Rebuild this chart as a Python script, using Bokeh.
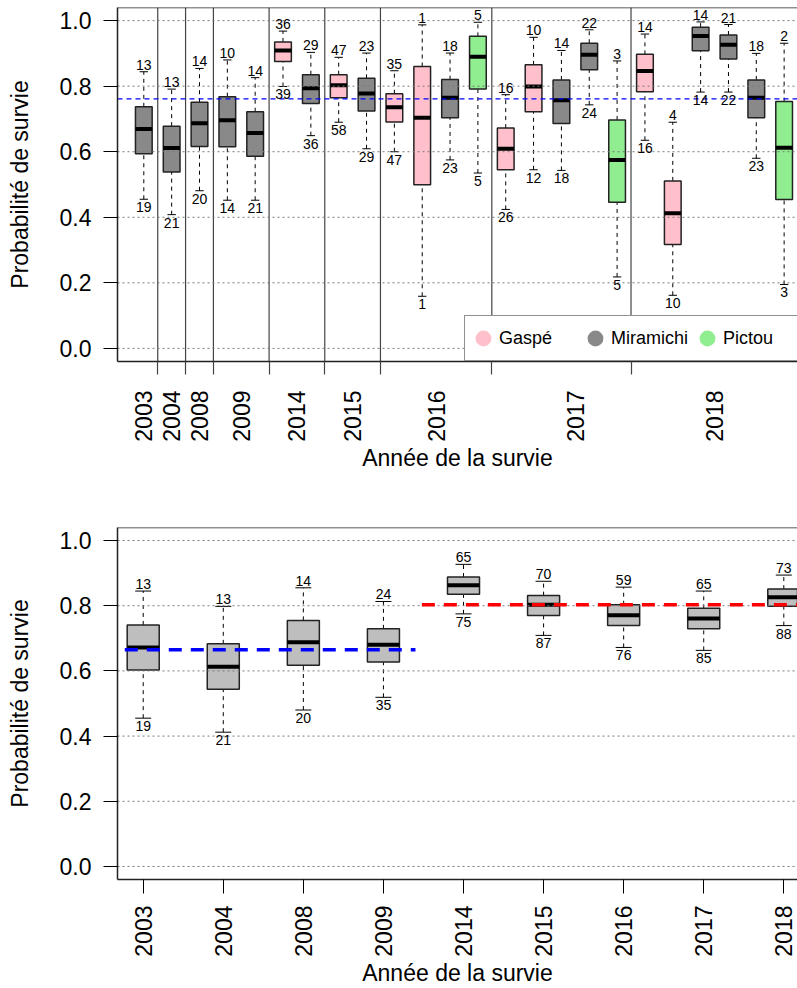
import numpy as np
from bokeh.plotting import figure
from bokeh.models import (Range1d, FixedTicker, Legend, LegendItem, Span,
                          ColumnDataSource, PrintfTickFormatter)
from bokeh.layouts import column
from bokeh.core.properties import value
from bokeh.embed import file_html
from bokeh.resources import INLINE

FONT = "Liberation Sans"

# ---------------- upper panel: survival per year and river ----------------
year_labels = ["2003", "2004", "2008", "2009", "2014", "2015", "2016", "2017", "2018"]
boxes_per_year = [1, 1, 1, 2, 2, 2, 4, 5, 6]
year_label_pos = [1, 2, 3, 4.5, 6.5, 8.5, 11.5, 16.5, 21.5]

site = ["Miramichi", "Miramichi", "Miramichi", "Miramichi", "Miramichi",
        "Gaspé", "Miramichi",
        "Gaspé", "Miramichi",
        "Gaspé", "Gaspé", "Miramichi", "Pictou",
        "Gaspé", "Gaspé", "Miramichi", "Miramichi", "Pictou",
        "Gaspé", "Gaspé", "Miramichi", "Miramichi", "Miramichi", "Pictou"]
low = [0.455, 0.408, 0.481, 0.452, 0.452, 0.799, 0.649, 0.690, 0.609, 0.600, 0.159, 0.575,
       0.535, 0.424, 0.545, 0.543, 0.743, 0.218, 0.635, 0.162, 0.782, 0.782, 0.580, 0.195]
q1 = [0.594, 0.538, 0.616, 0.615, 0.586, 0.875, 0.747, 0.765, 0.724, 0.691, 0.499, 0.704,
      0.791, 0.545, 0.722, 0.686, 0.850, 0.446, 0.783, 0.317, 0.908, 0.883, 0.704, 0.454]
med = [0.669, 0.611, 0.687, 0.696, 0.657, 0.909, 0.794, 0.803, 0.778, 0.736, 0.704, 0.765,
       0.890, 0.609, 0.799, 0.757, 0.896, 0.575, 0.846, 0.412, 0.953, 0.926, 0.765, 0.612]
q3 = [0.737, 0.678, 0.751, 0.768, 0.722, 0.935, 0.835, 0.835, 0.824, 0.777, 0.860, 0.820,
      0.952, 0.672, 0.865, 0.819, 0.931, 0.697, 0.897, 0.511, 0.980, 0.956, 0.819, 0.753]
high = [0.844, 0.791, 0.854, 0.880, 0.826, 0.968, 0.903, 0.888, 0.901, 0.847, 0.987, 0.901,
        0.995, 0.774, 0.949, 0.909, 0.972, 0.877, 0.959, 0.690, 0.996, 0.988, 0.900, 0.931]
n_high = [13, 13, 14, 10, 14, 36, 29, 47, 23, 35, 1, 18, 5, 16, 10, 14, 22, 3, 14, 4, 14, 21, 18, 2]
n_low = [19, 21, 20, 14, 21, 39, 36, 58, 29, 47, 1, 23, 5, 26, 12, 18, 24, 5, 16, 10, 14, 22, 23, 3]
overall_mean = 0.761

site_names = ["Gaspé", "Miramichi", "Pictou"]
site_colors = {"Gaspé": "#FFC0CB", "Miramichi": "#898989", "Pictou": "#90EE90"}

# ---------------- lower panel: survival per year, rivers pooled ----------------
pooled_low = [0.455, 0.412, 0.480, 0.519, 0.775, 0.709, 0.672, 0.663, 0.739]
pooled_q1 = [0.603, 0.544, 0.617, 0.627, 0.835, 0.770, 0.739, 0.729, 0.798]
pooled_med = [0.672, 0.613, 0.688, 0.680, 0.863, 0.803, 0.771, 0.761, 0.826]
pooled_q3 = [0.741, 0.683, 0.755, 0.729, 0.888, 0.831, 0.803, 0.792, 0.851]
pooled_high = [0.845, 0.798, 0.855, 0.813, 0.927, 0.875, 0.857, 0.845, 0.894]
pooled_n_high = [13, 13, 14, 24, 65, 70, 59, 65, 73]
pooled_n_low = [19, 21, 20, 35, 75, 87, 76, 85, 88]
mean_early = 0.665   # 2003-2009
mean_late = 0.803    # 2014-2018

y_ticks = [0.0, 0.2, 0.4, 0.6, 0.8, 1.0]
FRAME = "#222222"


def style_axes(p):
    p.outline_line_color = None
    p.grid.visible = False
    for ax in p.below + p.left:
        ax.axis_line_color = FRAME
        ax.axis_line_width = 1.5
        ax.major_label_text_font = FONT
        ax.major_label_text_font_size = "23px"
        ax.major_label_text_color = "black"
        ax.axis_label_text_font = FONT
        ax.axis_label_text_font_size = "23px"
        ax.axis_label_text_font_style = "normal"
        ax.axis_label_text_color = "black"
    ya = p.left[0]
    ya.ticker = FixedTicker(ticks=y_ticks)
    ya.formatter = PrintfTickFormatter(format="%.1f")
    ya.major_tick_out = 14
    ya.major_tick_in = 0
    ya.major_tick_line_color = "black"
    ya.minor_tick_line_color = None
    ya.major_label_standoff = 12
    ya.axis_label_standoff = 24
    # top edge of the frame
    p.add_layout(Span(location=p.y_range.end, dimension="width",
                      line_color=FRAME, line_width=1.5))


def draw_grid(p):
    x0, x1 = p.x_range.start, p.x_range.end
    p.segment(x0=[x0] * len(y_ticks), x1=[x1] * len(y_ticks), y0=y_ticks, y1=y_ticks,
              line_color="#7a7a7a", line_width=1, line_dash="2 3")


def draw_boxes(p, xs, lo, a, m, b, hi, nh, nl, fills, width):
    xs = np.asarray(xs, dtype=float)
    src = ColumnDataSource(dict(
        x=xs, lo=lo, q1=a, med=m, q3=b, hi=hi, fill=fills,
        left=xs - width / 2, right=xs + width / 2,
        cl=xs - width / 4, cr=xs + width / 4,
        nh=[str(v) for v in nh], nl=[str(v) for v in nl]))
    p.segment(x0="x", x1="x", y0="q3", y1="hi", source=src,
              line_color="black", line_width=1, line_dash="4 4")
    p.segment(x0="x", x1="x", y0="lo", y1="q1", source=src,
              line_color="black", line_width=1, line_dash="4 4")
    p.segment(x0="cl", x1="cr", y0="hi", y1="hi", source=src, line_color="black", line_width=1)
    p.segment(x0="cl", x1="cr", y0="lo", y1="lo", source=src, line_color="black", line_width=1)
    p.vbar(x="x", width=width, bottom="q1", top="q3", source=src,
           fill_color="fill", line_color=FRAME, line_width=1.5)
    p.segment(x0="left", x1="right", y0="med", y1="med", source=src,
              line_color="black", line_width=4)
    return src


def draw_counts(p, src):
    p.text(x="x", y="hi", text="nh", source=src, text_align="center",
           text_baseline="bottom", y_offset=-2, text_font=value(FONT),
           text_font_size="14px", text_color="black")
    p.text(x="x", y="lo", text="nl", source=src, text_align="center",
           text_baseline="top", y_offset=3, text_font=value(FONT),
           text_font_size="14px", text_color="black")


# ================= upper figure =================
n_box = len(low)
pos = np.arange(1, n_box + 1)
boundaries = list(np.cumsum(boxes_per_year)[:-1] + 0.5)

p1 = figure(width=797, height=494, x_range=Range1d(0.055, 24.48), y_range=Range1d(-0.04, 1.04),
            output_backend="svg", toolbar_location=None,
            min_border_left=117, min_border_right=0, min_border_top=7, min_border_bottom=133,
            x_axis_label="Année de la survie", y_axis_label="Probabilité de survie")
style_axes(p1)
xa = p1.below[0]
xa.ticker = FixedTicker(ticks=year_label_pos, minor_ticks=boundaries)
xa.major_label_overrides = dict(zip(year_label_pos, year_labels))
xa.major_tick_out = 0
xa.major_tick_in = 0
xa.minor_tick_out = 13
xa.minor_tick_in = 0
xa.minor_tick_line_color = "#444444"
xa.minor_tick_line_width = 1.2
xa.major_label_orientation = np.pi / 2
xa.major_label_standoff = 16
xa.axis_label_standoff = 0

# year separators
p1.segment(x0=boundaries, x1=boundaries, y0=[p1.y_range.start] * len(boundaries),
           y1=[p1.y_range.end] * len(boundaries), line_color="#444444", line_width=1.2)

src1 = draw_boxes(p1, pos, low, q1, med, q3, high, n_high, n_low,
                  [site_colors[s] for s in site], 0.6)
draw_grid(p1)
p1.segment(x0=[p1.x_range.start], x1=[p1.x_range.end], y0=[overall_mean], y1=[overall_mean],
           line_color="#0000FF", line_width=1.2, line_dash="5 4")
draw_counts(p1, src1)

legend_items = []
for s in site_names:
    r = p1.scatter(x=[np.nan], y=[np.nan], marker="circle", fill_color=site_colors[s],
                   line_color=site_colors[s], line_width=3)
    legend_items.append(LegendItem(label=s, renderers=[r]))
legend = Legend(items=legend_items, orientation="horizontal", location=(347, 0),
                glyph_width=32, glyph_height=40, label_standoff=0, label_width=80,
                spacing=0, padding=2, margin=0,
                border_line_color=FRAME, border_line_width=1.5,
                background_fill_color="white", background_fill_alpha=1.0,
                label_text_font=FONT, label_text_font_size="18px", label_text_color="black")
p1.add_layout(legend)

# ================= lower figure =================
pooled_pos = np.arange(1, len(pooled_med) + 1)
p2 = figure(width=797, height=494, x_range=Range1d(0.679, 9.171), y_range=Range1d(-0.04, 1.04),
            output_backend="svg", toolbar_location=None,
            min_border_left=117, min_border_right=0, min_border_top=33, min_border_bottom=109,
            x_axis_label="Année de la survie", y_axis_label="Probabilité de survie")
style_axes(p2)
xb = p2.below[0]
xb.ticker = FixedTicker(ticks=list(pooled_pos))
xb.major_label_overrides = dict(zip([int(v) for v in pooled_pos], year_labels))
xb.major_tick_out = 14
xb.major_tick_in = 0
xb.major_tick_line_color = "black"
xb.minor_tick_line_color = None
xb.major_label_orientation = np.pi / 2
xb.major_label_standoff = 12
xb.axis_label_standoff = 0

src2 = draw_boxes(p2, pooled_pos, pooled_low, pooled_q1, pooled_med, pooled_q3, pooled_high,
                  pooled_n_high, pooled_n_low, ["#BEBEBE"] * len(pooled_med), 0.4)
draw_grid(p2)
p2.segment(x0=[0.77], x1=[4.4], y0=[mean_early], y1=[mean_early],
           line_color="#0000FF", line_width=3.5, line_dash="13 9")
p2.segment(x0=[4.48], x1=[p2.x_range.end], y0=[mean_late], y1=[mean_late],
           line_color="#FF0000", line_width=3.5, line_dash="13 9")
draw_counts(p2, src2)

layout = column(p1, p2, spacing=0)
open("out.html", "w").write(file_html(layout, INLINE))
